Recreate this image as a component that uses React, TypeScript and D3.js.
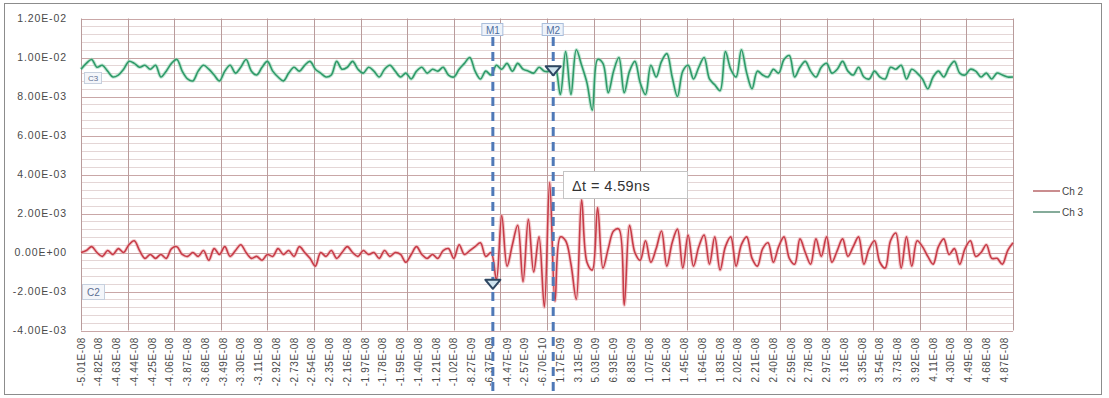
import React from 'react';
import * as d3 from 'd3';

// values in units of 1e-3, one value every 3 samples
const ch2 = [
  0.0, 0.1, 0.3, 0.0, -0.2, 0.1, -0.1, 0.2, 0.0, 0.4,
  0.6, 0.1, -0.3, -0.1, -0.3, -0.1, -0.3, 0.2, 0.3, -0.1,
  -0.2, 0.0, -0.2, 0.1, -0.4, 0.2, -0.1, 0.3, -0.2, 0.1,
  0.4, 0.0, -0.3, -0.2, -0.4, -0.1, -0.2, 0.2, -0.1, 0.1,
  -0.2, 0.3, 0.0, -0.3, -0.7, 0.0, -0.2, 0.1, -0.3, 0.0,
  0.3, 0.0, -0.2, 0.1, -0.1, 0.0, -0.3, 0.1, -0.2, 0.0,
  -0.1, -0.5, -0.1, 0.3, -0.1, -0.3, -0.1, -0.3, 0.1, 0.2,
  -0.3, 0.4, -0.1, 0.1, 0.3, 0.5, -0.2, 0.0, -1.4, 1.9,
  -0.7, 0.4, 1.4, -1.5, 1.7, -1.0, 0.8, -2.8, 3.6, -2.5,
  0.8, 0.6, -0.6, -2.4, 2.7, -0.5, -0.9, 2.3, -0.8, 0.2,
  1.1, 1.2, -2.7, 1.4, 0.0, -0.4, 0.6, -0.5, 0.2, 1.1,
  -0.7, 0.5, 1.2, -0.8, 0.9, -0.7, 0.3, 0.9, -0.6, 0.8,
  -0.9, 0.3, 0.8, -0.7, 0.4, 0.8, -0.3, -0.7, 0.2, 0.5,
  -0.5, 0.3, 0.8, -0.3, -0.6, 0.7, 0.0, -0.6, 0.7, -0.2,
  0.8, -0.5, 0.1, 0.7, -0.2, 0.3, 0.8, -0.6, 0.2, 0.6,
  -0.5, -0.8, 0.6, 1.0, -0.8, 0.8, -0.7, 0.6, 0.3, -0.2,
  -0.6, 0.3, 0.7, -0.1, 0.2, -0.6, 0.2, 0.6, -0.2, 0.0,
  0.4, -0.3, -0.3, -0.6, 0.1, 0.5,
];

const ch3 = [
  9.4, 9.7, 9.9, 9.5, 9.6, 9.3, 9.0, 9.1, 9.4, 9.8,
  9.7, 9.5, 9.6, 9.4, 9.6, 9.0, 9.3, 9.7, 9.9, 9.3,
  8.9, 8.8, 9.3, 9.6, 9.4, 9.1, 8.8, 9.3, 9.6, 9.2,
  9.5, 9.9, 9.3, 9.1, 9.5, 9.8, 9.3, 9.0, 8.8, 9.2,
  9.5, 9.3, 9.6, 9.8, 9.4, 9.2, 9.0, 9.1, 9.8, 9.4,
  9.5, 9.8, 9.4, 9.2, 9.5, 9.3, 9.0, 9.4, 9.6, 9.3,
  9.0, 9.2, 8.9, 9.3, 9.5, 9.2, 9.4, 9.3, 9.5, 9.1,
  9.0, 9.4, 9.7, 10.0, 9.3, 8.9, 9.3, 9.1, 9.6, 9.4,
  9.7, 9.3, 9.7, 9.4, 9.3, 9.2, 9.5, 9.3, 9.3, 9.5,
  8.1, 10.3, 8.1, 10.4, 9.6, 8.7, 7.3, 9.9, 9.7, 8.2,
  9.3, 10.0, 8.2, 9.3, 9.8, 8.7, 8.1, 9.6, 9.0, 9.8,
  10.2, 9.0, 8.0, 9.3, 9.6, 8.9, 9.5, 10.0, 8.9, 8.6,
  8.3, 10.3, 9.4, 9.0, 10.4, 9.2, 8.4, 9.3, 9.1, 9.0,
  9.4, 9.2, 9.9, 10.1, 9.0, 9.5, 9.8, 9.3, 9.0, 9.5,
  9.7, 9.2, 9.4, 9.8, 9.3, 9.1, 9.5, 9.0, 8.9, 9.3,
  9.0, 8.9, 9.5, 9.4, 9.6, 8.9, 9.4, 9.2, 8.9, 8.4,
  9.0, 9.3, 9.0, 9.5, 9.8, 9.2, 9.1, 9.4, 9.3, 9.0,
  9.2, 8.9, 9.2, 9.1, 9.0, 9.0,
];

const xLabels = [
  '-5.01E-08', '-4.82E-08', '-4.63E-08', '-4.44E-08', '-4.25E-08', '-4.06E-08',
  '-3.87E-08', '-3.68E-08', '-3.49E-08', '-3.30E-08', '-3.11E-08', '-2.92E-08',
  '-2.73E-08', '-2.54E-08', '-2.35E-08', '-2.16E-08', '-1.97E-08', '-1.78E-08',
  '-1.59E-08', '-1.40E-08', '-1.21E-08', '-1.02E-08', '-8.27E-09', '-6.37E-09',
  '-4.47E-09', '-2.57E-09', '-6.70E-10', '1.17E-09', '3.13E-09', '5.03E-09',
  '6.93E-09', '8.83E-09', '1.07E-08', '1.26E-08', '1.45E-08', '1.64E-08',
  '1.83E-08', '2.02E-08', '2.21E-08', '2.40E-08', '2.59E-08', '2.78E-08',
  '2.97E-08', '3.16E-08', '3.35E-08', '3.54E-08', '3.73E-08', '3.92E-08',
  '4.11E-08', '4.30E-08', '4.49E-08', '4.68E-08', '4.87E-08',
];

const yTicks = [12, 10, 8, 6, 4, 2, 0, -2, -4];
const yLabels = ['1.20E-02', '1.00E-02', '8.00E-03', '6.00E-03', '4.00E-03', '2.00E-03', '0.00E+00', '-2.00E-03', '-4.00E-03'];

// markers: [name, sample index, value on its trace]
const markers: [string, number, number][] = [['M1', 232, -1.4], ['M2', 266, 9.55]];
const deltaLabel = 'Δt = 4.59ns';

const STEP = 3; // samples between stored values
const LABEL_EVERY = 10;
const N_SAMPLES = 525;

const font = '"Liberation Sans", Arial, sans-serif';

export default function App() {
  const x = d3.scaleLinear().domain([0, N_SAMPLES]).range([81, 1013]);
  const y = d3.scaleLinear().domain([-4, 12]).range([330.5, 18.5]);

  const line = d3.line<number>()
    .x((d, i) => x(i * STEP))
    .y(d => y(d))
    .curve(d3.curveCatmullRom.alpha(0.5));

  const minor = d3.range(-4, 12.001, 0.4);
  const vGrid = d3.range(21).map(k => x((k * N_SAMPLES) / 20));
  const markerBlue = '#4f79b7';

  return (
    <svg width={1109} height={398} style={{ position: 'absolute', left: 0, top: 0, background: '#fff' }}>
      <rect x={4.5} y={3.5} width={1097} height={391} fill="#fff" stroke="#8c8c8c" />

      {/* gridlines */}
      {minor.map(v => (
        <line key={'m' + v} x1={81} x2={1013} y1={Math.round(y(v)) + 0.5} y2={Math.round(y(v)) + 0.5} stroke="#e4d6d6" />
      ))}
      {yTicks.map(v => (
        <line key={'M' + v} x1={81} x2={1013} y1={Math.round(y(v)) + 0.5} y2={Math.round(y(v)) + 0.5} stroke="#c9a7a7" />
      ))}
      {vGrid.map((gx, k) => (
        <line key={'v' + k} x1={Math.round(gx) + 0.5} x2={Math.round(gx) + 0.5} y1={18.5} y2={330.5} stroke="#b99c9c" />
      ))}

      {/* y axis labels */}
      {yTicks.map((v, i) => (
        <text key={'yl' + v} x={67} y={y(v)} dy="0.35em" textAnchor="end" fontFamily={font} fontSize={10.5}
          letterSpacing={0.9} fill="#4a4a4a">{yLabels[i]}</text>
      ))}

      {/* x axis labels */}
      {xLabels.map((t, k) => (
        <text key={'xl' + k} transform={`translate(${x(k * LABEL_EVERY)},337) rotate(-90)`} textAnchor="end"
          dy="0.35em" fontFamily={font} fontSize={10} letterSpacing={0.6} fill="#4a4a4a">{t}</text>
      ))}

      {/* series */}
      <path d={line(ch3) || ''} fill="none" stroke="#8fd3b0" strokeWidth={3.6} strokeOpacity={0.55} />
      <path d={line(ch3) || ''} fill="none" stroke="#2f9a69" strokeWidth={1.6} />
      <path d={line(ch2) || ''} fill="none" stroke="#eaa2a6" strokeWidth={3.6} strokeOpacity={0.55} />
      <path d={line(ch2) || ''} fill="none" stroke="#c73c48" strokeWidth={1.6} />

      {/* channel tags */}
      <rect x={84.5} y={72.5} width={17} height={11} fill="#f4f6fa" stroke="#c6d0de" />
      <text x={93} y={78} dy="0.35em" textAnchor="middle" fontFamily={font} fontSize={8} fill="#5b6f93">C3</text>
      <rect x={82.5} y={284.5} width={22} height={15} fill="#f4f6fa" stroke="#c6d0de" />
      <text x={93.5} y={292} dy="0.35em" textAnchor="middle" fontFamily={font} fontSize={10} fill="#5b6f93">C2</text>

      {/* markers */}
      {markers.map(([name, s, v]) => {
        const mx = x(s);
        const my = y(v);
        return (
          <g key={name}>
            <line x1={mx} x2={mx} y1={37} y2={394} stroke={markerBlue} strokeWidth={3} strokeDasharray="9,6" />
            <rect x={mx - 11} y={23.5} width={21} height={12} fill="#eef3fa" stroke="#a8bddb" />
            <text x={mx} y={30} dy="0.35em" textAnchor="middle" fontFamily={font} fontSize={10} fill="#4f6f9f">{name}</text>
            <path d={`M${mx - 7.5},${my} L${mx + 7.5},${my} L${mx},${my + 9} Z`} fill="#cfe4ef" stroke="#2e4762" strokeWidth={2} strokeLinejoin="round" />
          </g>
        );
      })}

      {/* delta annotation */}
      <rect x={563.5} y={171.5} width={124} height={27} fill="#fff" stroke="#c4c4c4" />
      <text x={572} y={186} dy="0.35em" fontFamily={font} fontSize={14.5} letterSpacing={0.4} fill="#333">{deltaLabel}</text>

      {/* legend */}
      <line x1={1033} x2={1060} y1={191} y2={191} stroke="#b9676a" strokeWidth={1.5} />
      <text x={1062} y={191} dy="0.35em" fontFamily={font} fontSize={10} fill="#444">Ch 2</text>
      <line x1={1033} x2={1060} y1={212} y2={212} stroke="#5c8f78" strokeWidth={1.5} />
      <text x={1062} y={212} dy="0.35em" fontFamily={font} fontSize={10} fill="#444">Ch 3</text>
    </svg>
  );
}
